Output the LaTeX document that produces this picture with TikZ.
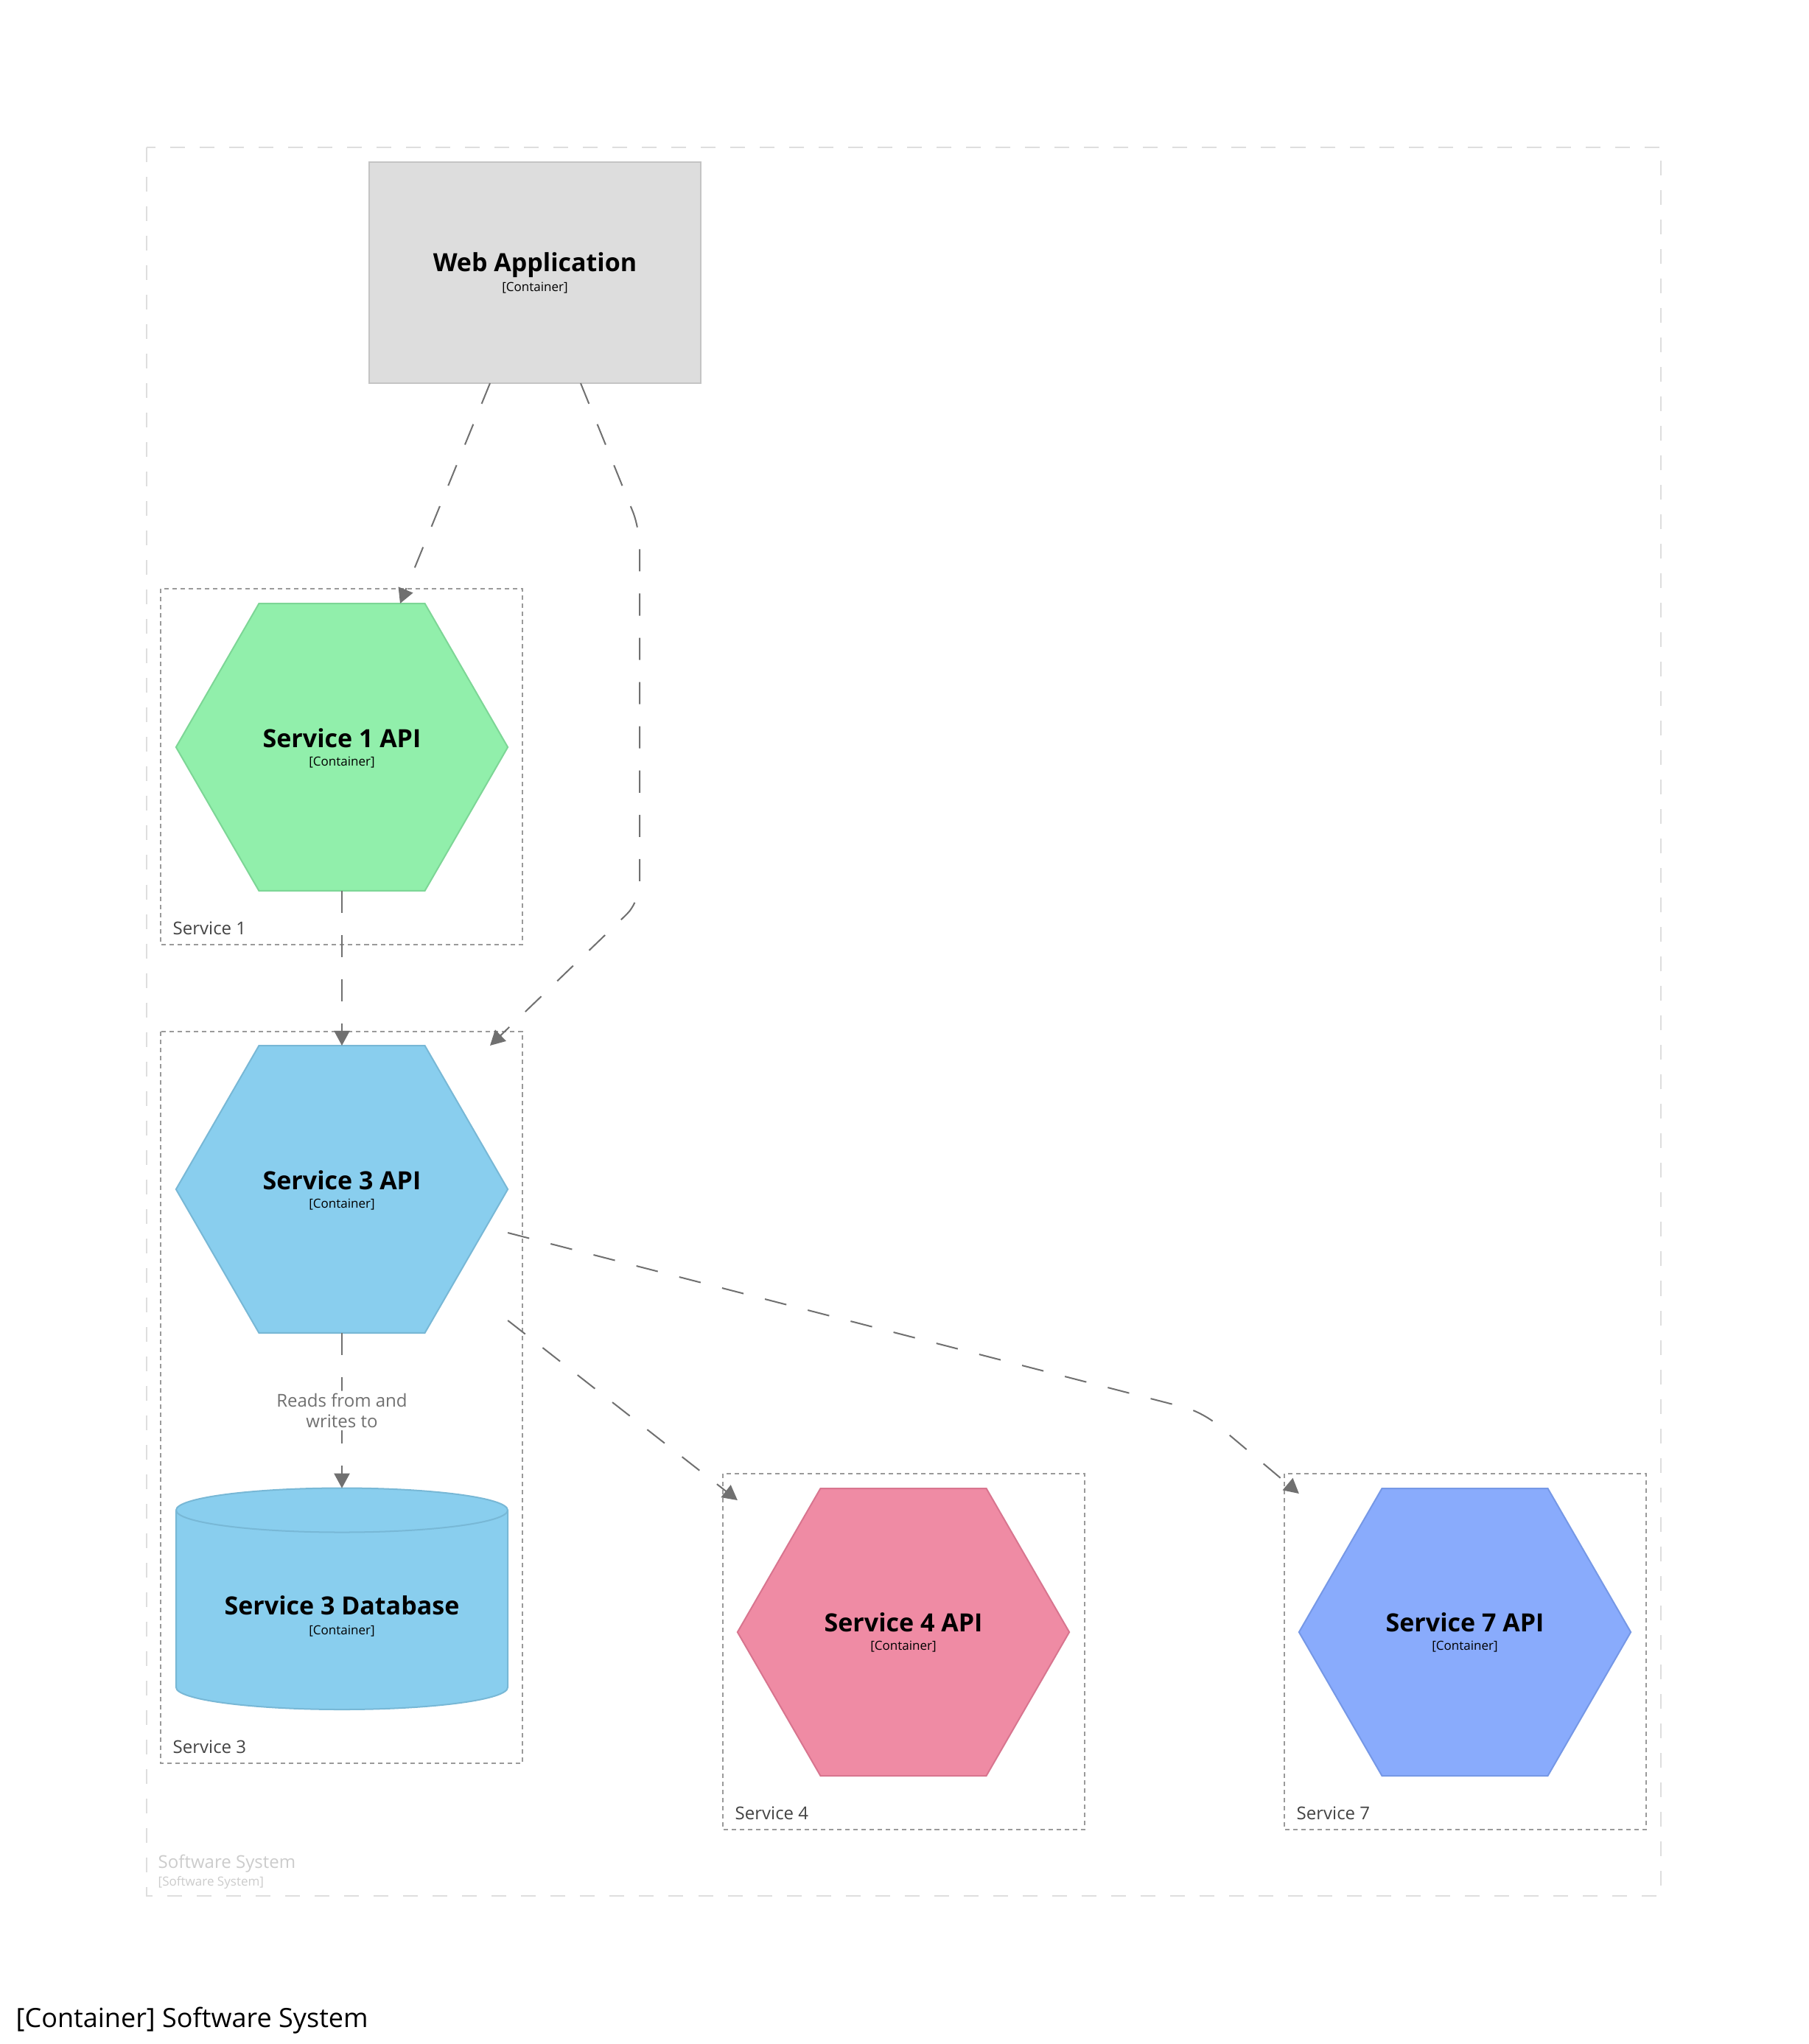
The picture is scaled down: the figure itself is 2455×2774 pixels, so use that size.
\documentclass[tikz,border=0pt]{standalone}
\usepackage{fontspec}
\setmainfont{Open Sans}
\usetikzlibrary{shapes.geometric,arrows.meta,calc}
\definecolor{wafill}{HTML}{DDDDDD}
\definecolor{wadraw}{HTML}{C4C4C4}
\definecolor{gfill}{HTML}{91EFAB}
\definecolor{gdraw}{HTML}{7DD696}
\definecolor{bfill}{HTML}{89CEEE}
\definecolor{bdraw}{HTML}{78B8D6}
\definecolor{pfill}{HTML}{EF8BA4}
\definecolor{pdraw}{HTML}{D8758F}
\definecolor{vfill}{HTML}{89ABFC}
\definecolor{vdraw}{HTML}{7698E6}
\definecolor{relc}{HTML}{707070}
\definecolor{grpc}{HTML}{9A9A9A}
\definecolor{grpt}{HTML}{444444}
\definecolor{sysc}{HTML}{CCCCCC}
\definecolor{sysb}{HTML}{DEDEDE}
\tikzset{
  nm/.style={font=\fontsize{9.67pt}{11pt}\selectfont\bfseries, anchor=base, inner sep=0pt},
  mt/.style={font=\fontsize{4.84pt}{6pt}\selectfont, anchor=base, inner sep=0pt},
  hexa/.style={shape=regular polygon, regular polygon sides=6, minimum size=4.5cm, inner sep=0pt, outer sep=0pt, line width=0.57pt},
  rel/.style={draw=relc, line width=0.57pt, dash pattern=on 8.54pt off 8.54pt, -{Triangle[length=5.7pt,width=6pt]}, rounded corners=7pt},
  rlbl/.style={font=\fontsize{6.83pt}{7.97pt}\selectfont, text=relc, fill=white, align=center, inner sep=1pt},
  grpbox/.style={draw=grpc, line width=0.57pt, dash pattern=on 1.71pt off 1.42pt},
  grplbl/.style={font=\fontsize{6.83pt}{8pt}\selectfont, text=grpt, anchor=base west, inner sep=0pt},
  sysbox/.style={draw=sysb, line width=0.71pt, dash pattern=on 5.69pt off 5.69pt},
  syslbl/.style={font=\fontsize{6.83pt}{8pt}\selectfont, text=sysc, anchor=base west, inner sep=0pt},
  sysmeta/.style={font=\fontsize{4.84pt}{6pt}\selectfont, text=sysc, anchor=base west, inner sep=0pt},
}
\begin{document}
\begin{tikzpicture}[x=0.01cm, y=-0.01cm]
\useasboundingbox (0,0) rectangle (2455,2774);
\fill[white] (0,0) rectangle (2455,2774);

% outer software system boundary
\draw[sysbox] (199,200) rectangle (2254,2573);
\node[syslbl] (sysname) at (214,2535) {Software System};
\node[sysmeta] (sysmt) at (214,2559) {[Software System]};

% groups
\draw[grpbox] (218,799) rectangle (709,1282);
\node[grplbl] (g1) at (234,1268) {Service 1};
\draw[grpbox] (218,1400) rectangle (709,2393);
\node[grplbl] (g3) at (234,2379) {Service 3};
\draw[grpbox] (981,2000) rectangle (1472,2483);
\node[grplbl] (g4) at (997,2469) {Service 4};
\draw[grpbox] (1743,2000) rectangle (2234,2483);
\node[grplbl] (g7) at (1759,2469) {Service 7};

% web application
\node[draw=wadraw, fill=wafill, line width=0.57pt, minimum width=4.5cm, minimum height=3cm, inner sep=0pt, outer sep=0pt] (wa) at (726,370) {};
\node[nm] (wan) at (726,368) {Web Application};
\node[mt] (wam) at (726,395) {[Container]};

% hexagons
\node[hexa, draw=gdraw, fill=gfill] (s1) at (464,1014) {};
\node[nm] (s1n) at (464,1014) {Service 1 API};
\node[mt] (s1m) at (464,1039) {[Container]};

\node[hexa, draw=bdraw, fill=bfill] (s3) at (464,1614) {};
\node[nm] (s3n) at (464,1614) {Service 3 API};
\node[mt] (s3m) at (464,1639) {[Container]};

\node[hexa, draw=pdraw, fill=pfill] (s4) at (1226,2215) {};
\node[nm] (s4n) at (1226,2214) {Service 4 API};
\node[mt] (s4m) at (1226,2239) {[Container]};

\node[hexa, draw=vdraw, fill=vfill] (s7) at (1988,2215) {};
\node[nm] (s7n) at (1988,2214) {Service 7 API};
\node[mt] (s7m) at (1988,2239) {[Container]};

% database cylinder
\node[minimum width=4.5cm, minimum height=3.005cm, inner sep=0pt, outer sep=0pt] (db) at (464,2170) {};
\fill[bfill] (239,2049.5) -- (239,2290)
  .. controls (239,2306.6) and (339.7,2320) .. (464,2320)
  .. controls (588.3,2320) and (689,2306.6) .. (689,2290)
  -- (689,2049.5)
  .. controls (689,2032.9) and (588.3,2019.5) .. (464,2019.5)
  .. controls (339.7,2019.5) and (239,2032.9) .. (239,2049.5) -- cycle;
\draw[bdraw, line width=0.57pt] (239,2049.5) -- (239,2290)
  .. controls (239,2306.6) and (339.7,2320) .. (464,2320)
  .. controls (588.3,2320) and (689,2306.6) .. (689,2290)
  -- (689,2049.5)
  .. controls (689,2032.9) and (588.3,2019.5) .. (464,2019.5)
  .. controls (339.7,2019.5) and (239,2032.9) .. (239,2049.5);
\draw[bdraw, line width=0.57pt] (239,2049.5)
  .. controls (239,2066.1) and (339.7,2079.5) .. (464,2079.5)
  .. controls (588.3,2079.5) and (689,2066.1) .. (689,2049.5);
\node[nm] (dbn) at (464,2191) {Service 3 Database};
\node[mt] (dbm) at (464,2218) {[Container]};

% waypoints
\coordinate (w1) at (868,717);
\coordinate (w2) at (868,1224);
\coordinate (w3) at (1631,1916);

% relationships
\draw[rel] ($(wa.south)+(-61,0)$) -- ($(s1.north)+(79,0)$);
\draw[rel] ($(wa.south)+(62,0)$) -- (w1) -- (w2) -- ($(s3.north)+(201,0)$);
\draw[rel] (s1.south) -- (s3.north);
\draw[rel] (s3.south) -- node[rlbl] (rl) {Reads from and\\writes to} (db.north);
\draw[rel] ($(s3.east)+(0,178)$) -- ($(s4.west)+(0,-179)$);
\draw[rel] ($(s3.east)+(0,59)$) -- (w3) -- ($(s7.west)+(0,-188)$);

% title
\node[font=\fontsize{10.24pt}{12pt}\selectfont, anchor=base west, inner sep=0pt] (title) at (21,2751) {[Container] Software System};
\end{tikzpicture}
\end{document}
